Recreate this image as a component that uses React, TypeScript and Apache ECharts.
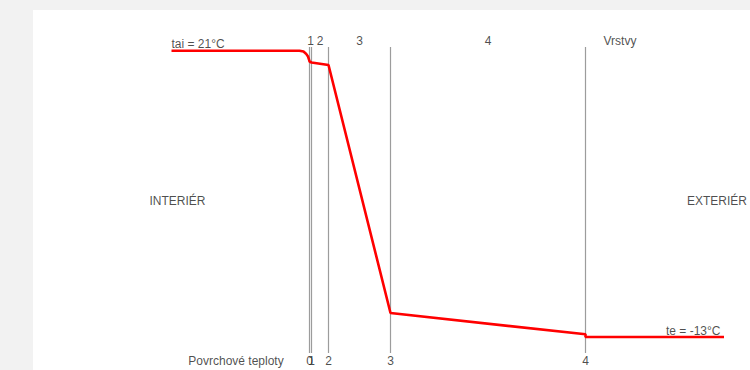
import React, { useEffect, useRef } from "react";
import * as echarts from "echarts";

// Layers (Vrstvy) and their thicknesses along the wall section
const layerNames = ["1", "2", "3", "4"];
const layerThickness = [2, 17, 62, 195];
// Surface temperatures (Povrchové teploty) at layer boundaries 0..4
const boundaryNames = ["0", "1", "2", "3", "4"];
const surfaceTemps = [19.72, 19.6, 19.3, -10.15, -12.68];
// Air temperatures
const tai = 21;
const te = -13;
// Interior boundary-layer profile (distance from inner surface, temperature)
const interiorAirX = [-138, -10, -6, -3.5, -1.5, -0.5];
const interiorAirT = [21, 21, 20.9, 20.65, 20.3, 19.95];
const exteriorAirEnd = 414.5;

// Positions of annotations (layout config)
const LAYER_LABEL_T = 22.15;
const BOUNDARY_LABEL_T = -15.89;
const LINE_TOP_T = 21.44;
const LINE_BOTTOM_T = -14.9;

const boundaries: number[] = layerThickness.reduce(
  (acc: number[], t: number) => {
    acc.push(acc[acc.length - 1] + t);
    return acc;
  },
  [0]
);

export default function App() {
  const ref = useRef<HTMLDivElement>(null);

  useEffect(() => {
    document.body.style.margin = "0";
    if (!ref.current) return;
    const chart = echarts.init(ref.current, undefined, { renderer: "svg" });

    const font = "'Liberation Sans', Arial, Helvetica, sans-serif";
    const textColor = "#1e1e1e";

    const redData: number[][] = [];
    interiorAirX.forEach((x, i) => redData.push([x, interiorAirT[i]]));
    boundaries.forEach((b, i) => redData.push([b, surfaceTemps[i]]));
    redData.push([boundaries[boundaries.length - 1], te]);
    redData.push([exteriorAirEnd, te]);

    const layerMids = layerThickness.map((t, i) => boundaries[i] + t / 2);

    const annotations = [
      { text: `tai = ${tai}°C`, x: -138, y: 21.79, align: "left" },
      { text: `te = ${te}°C`, x: 411, y: -12.23, align: "right" },
      { text: "Vrstvy", x: 310.5, y: LAYER_LABEL_T, align: "center" },
      { text: "Povrchové teploty", x: -73.5, y: BOUNDARY_LABEL_T, align: "center" },
      { text: "INTERIÉR", x: -132, y: 3.15, align: "center" },
      { text: "EXTERIÉR", x: 407.5, y: 3.15, align: "center" },
      ...layerNames.map((n, i) => ({ text: n, x: layerMids[i], y: LAYER_LABEL_T, align: "center" })),
      ...boundaryNames.map((n, i) => ({ text: n, x: boundaries[i], y: BOUNDARY_LABEL_T, align: "center" })),
    ];

    const boundarySeries = boundaries.map((b) => ({
      type: "line",
      data: [
        [b, LINE_BOTTOM_T],
        [b, LINE_TOP_T],
      ],
      symbol: "none",
      lineStyle: { color: "#9c9c9c", width: 1.2 },
      silent: true,
      z: 1,
    }));

    chart.setOption({
      animation: false,
      textStyle: { fontFamily: font },
      grid: { left: 126.5, right: 0.5, top: 7, bottom: 3.5 },
      xAxis: { type: "value", min: -150, max: 440, show: false },
      yAxis: { type: "value", min: -16.5, max: 25, show: false },
      series: [
        ...boundarySeries,
        {
          type: "line",
          data: redData,
          symbol: "none",
          lineStyle: { color: "#ff0000", width: 2.6 },
          z: 3,
        },
        {
          type: "scatter",
          data: annotations.map((a) => ({
            value: [a.x, a.y],
            label: {
              show: true,
              formatter: a.text,
              position: "inside",
              align: a.align,
              verticalAlign: "middle",
              color: textColor,
              fontSize: 12,
              fontFamily: font,
            },
          })),
          symbolSize: 1,
          itemStyle: { color: "rgba(0,0,0,0)" },
          silent: true,
          z: 4,
        },
      ],
    });

    return () => chart.dispose();
  }, []);

  return (
    <div
      style={{
        position: "relative",
        width: 750,
        height: 370,
        background: "#f2f2f2",
        overflow: "hidden",
      }}
    >
      <div
        ref={ref}
        style={{
          position: "absolute",
          left: 33,
          top: 10,
          width: 717,
          height: 360,
          background: "#ffffff",
        }}
      />
    </div>
  );
}
